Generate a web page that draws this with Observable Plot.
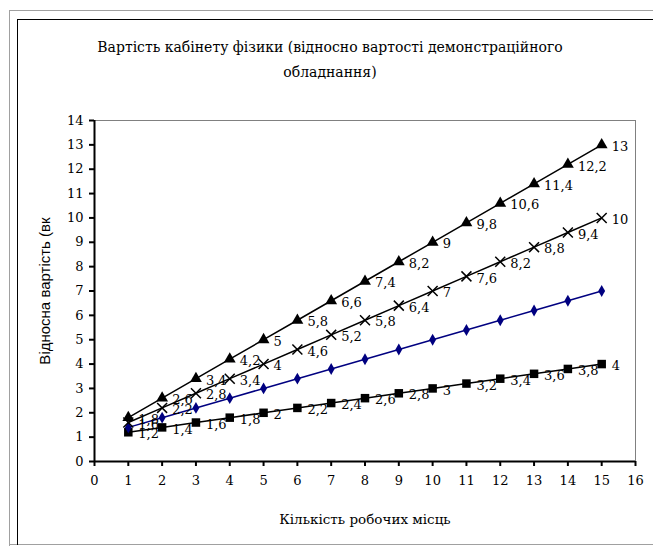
<!DOCTYPE html>
<html>
<head>
<meta charset="utf-8">
<script src="https://cdn.jsdelivr.net/npm/d3@7"></script>
<script src="https://cdn.jsdelivr.net/npm/@observablehq/plot@0.6"></script>
<style>
  html, body { margin: 0; padding: 0; background: #fff; }
  #wrap { position: relative; width: 653px; height: 546px; overflow: hidden; background: #fff; }
  .line { position: absolute; }
  #title { position: absolute; left: 30px; width: 600px; top: 35px; text-align: center;
           font-family: "DejaVu Serif", serif; font-size: 14px; line-height: 25px; color: #000; }
  #chart { position: absolute; left: 0; top: 0; }
</style>
</head>
<body>
<div id="wrap">
  <div class="line" style="left:9px;top:10px;width:644px;height:1px;background:#a0a0a0"></div>
  <div class="line" style="left:9px;top:10px;width:1px;height:536px;background:#a0a0a0"></div>
  <div class="line" style="left:9px;top:544px;width:644px;height:1px;background:#a0a0a0"></div>
  <div class="line" style="left:17px;top:19px;width:636px;height:1px;background:#000"></div>
  <div class="line" style="left:17px;top:19px;width:1px;height:526px;background:#000"></div>
  <div id="title">Вартість кабінету фізики (відносно вартості демонстраційного<br>обладнання)</div>
  <div id="chart"></div>
</div>
<script>
const xTitle = "Кількість робочих місць";
const yTitle = "Відносна вартість (вк";

const places = [1, 2, 3, 4, 5, 6, 7, 8, 9, 10, 11, 12, 13, 14, 15];
const triangleValues = [1.8, 2.6, 3.4, 4.2, 5, 5.8, 6.6, 7.4, 8.2, 9, 9.8, 10.6, 11.4, 12.2, 13];
const crossValues = [1.6, 2.2, 2.8, 3.4, 4, 4.6, 5.2, 5.8, 6.4, 7, 7.6, 8.2, 8.8, 9.4, 10];
const diamondValues = [1.4, 1.8, 2.2, 2.6, 3, 3.4, 3.8, 4.2, 4.6, 5, 5.4, 5.8, 6.2, 6.6, 7];
const squareValues = [1.2, 1.4, 1.6, 1.8, 2, 2.2, 2.4, 2.6, 2.8, 3, 3.2, 3.4, 3.6, 3.8, 4];

const xTicks = [0, 1, 2, 3, 4, 5, 6, 7, 8, 9, 10, 11, 12, 13, 14, 15, 16];
const yTicks = [0, 1, 2, 3, 4, 5, 6, 7, 8, 9, 10, 11, 12, 13, 14];

const toRows = (vals) => places.map((x, i) => ({x, y: vals[i], label: String(vals[i]).replace(".", ",")}));
const tri = toRows(triangleValues);
const cross = toRows(crossValues);
const diam = toRows(diamondValues);
const sq = toRows(squareValues);

const navy = "#000080";
const serif = "'DejaVu Serif', serif";
const labelOpts = {x: "x", y: "y", text: "label", textAnchor: "start", dx: 10, dy: 2, fill: "black", fontSize: 13, fontFamily: serif};

const chart = Plot.plot({
  width: 653,
  height: 546,
  marginLeft: 94,
  marginRight: 18,
  marginTop: 120,
  marginBottom: 85,
  x: {domain: [0, 16]},
  y: {domain: [0, 14]},
  style: {fontFamily: serif, fontSize: "13px", color: "black", background: "transparent", overflow: "visible"},
  marks: [
    Plot.ruleY([14], {stroke: "#808080", strokeWidth: 1}),
    Plot.ruleX([16], {stroke: "#808080", strokeWidth: 1}),
    Plot.axisX({ticks: xTicks, tickSize: 5, tickPadding: 9, strokeWidth: 2, label: null, fontSize: 13, fontFamily: serif, tickFormat: d => String(d)}),
    Plot.axisY({ticks: yTicks, tickSize: 5, tickPadding: 6, strokeWidth: 2, label: null, fontSize: 13, fontFamily: serif, tickFormat: d => String(d)}),
    Plot.ruleX([0], {stroke: "black", strokeWidth: 2}),
    Plot.ruleY([0], {stroke: "black", strokeWidth: 2}),
    Plot.line(sq, {x: "x", y: "y", stroke: "black", strokeWidth: 1.5}),
    Plot.line(diam, {x: "x", y: "y", stroke: navy, strokeWidth: 1.5}),
    Plot.line(cross, {x: "x", y: "y", stroke: "black", strokeWidth: 1.5}),
    Plot.line(tri, {x: "x", y: "y", stroke: "black", strokeWidth: 1.5}),
    Plot.dot(sq, {x: "x", y: "y", symbol: "square", r: 4.8, fill: "black", stroke: "none"}),
    Plot.dot(diam, {x: "x", y: "y", symbol: "diamond", r: 3.6, fill: navy, stroke: "none"}),
    Plot.dot(cross, {x: "x", y: "y", symbol: "times", r: 4.6, stroke: "black", strokeWidth: 1.5, fill: "none"}),
    Plot.dot(tri, {x: "x", y: "y", symbol: "triangle", r: 4.4, fill: "black", stroke: "none"}),
    Plot.text(sq, labelOpts),
    Plot.text(cross, labelOpts),
    Plot.text(tri, labelOpts),
    Plot.text([xTitle], {frameAnchor: "bottom", textAnchor: "middle", dy: 62, fontSize: 13.5, fill: "black", fontFamily: serif}),
    Plot.text([yTitle], {frameAnchor: "left", textAnchor: "middle", rotate: -90, dx: -49, dy: 0, fontSize: 15, fill: "black", fontFamily: "'Liberation Sans', Arial, sans-serif"})
  ]
});
document.getElementById("chart").appendChild(chart);
</script>
</body>
</html>
